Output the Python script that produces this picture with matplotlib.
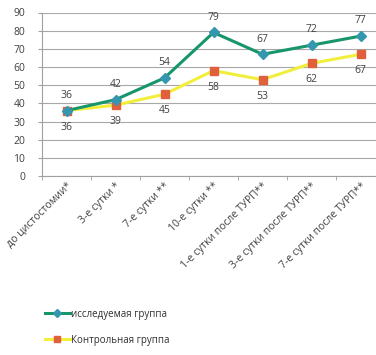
import matplotlib.pyplot as plt
import numpy as np

plt.rcParams['font.family'] = ['Open Sans', 'DejaVu Sans']

categories = ['до цистостомии*', '3-е сутки *', '7-е сутки **', '10-е сутки **',
              '1-е сутки после ТУРП**', '3-е сутки после ТУРП**', '7-е сутки после ТУРП**']
study = [36, 42, 54, 79, 67, 72, 77]
control = [36, 39, 45, 58, 53, 62, 67]
yticks = list(range(0, 91, 10))

W, H = 376, 355
fig = plt.figure(figsize=(W / 100, H / 100), dpi=100)
ax = fig.add_axes([42 / W, 1 - 176 / H, 343 / W, 163.5 / H])

x = np.arange(len(categories))
l1, = ax.plot(x, study, color='#16966a', lw=2.2, marker='D', ms=5,
              mfc='#3596b0', mec='#3596b0', label='исследуемая группа', zorder=3)
l2, = ax.plot(x, control, color='#f2ee3c', lw=2.2, marker='s', ms=5.5,
              mfc='#e0603c', mec='#e0603c', label='Контрольная группа', zorder=2)

for xi, v in zip(x, study):
    ax.annotate(str(v), (xi, v), xytext=(0, 7), textcoords='offset points',
                ha='center', va='bottom', fontsize=7.5, color='#404040')
for xi, v in zip(x, control):
    ax.annotate(str(v), (xi, v), xytext=(0, -8), textcoords='offset points',
                ha='center', va='top', fontsize=7.5, color='#404040')

ax.set_xlim(-0.5, len(categories) - 0.5)
ax.set_ylim(0, 90)
ax.set_yticks(yticks)
ax.tick_params(axis='y', labelsize=7.5, colors='#404040', length=3, color='#a0a0a0', pad=9)
ax.yaxis.grid(True, color='#a8a8a8', lw=0.8)
ax.set_axisbelow(True)

ax.set_xticks(x)
ax.set_xticklabels(categories, rotation=45, ha='right', rotation_mode='anchor',
                   fontsize=7.5, color='#404040')
ax.tick_params(axis='x', length=0, pad=3)
ax.set_xticks(np.arange(len(categories) + 1) - 0.5, minor=True)
ax.tick_params(axis='x', which='minor', length=3, color='#a0a0a0')

for s in ['top', 'right']:
    ax.spines[s].set_visible(False)
for s in ['left', 'bottom']:
    ax.spines[s].set_color('#a0a0a0')
    ax.spines[s].set_linewidth(0.8)

fig.legend(handles=[l1, l2], loc='upper left', bbox_to_anchor=(36 / W, 1 - 300 / H),
           frameon=False, fontsize=7, handlelength=2.6, handletextpad=0.15,
           labelspacing=1.55, labelcolor='#303030', markerscale=0.8)

fig.savefig('out.png', dpi=100)
